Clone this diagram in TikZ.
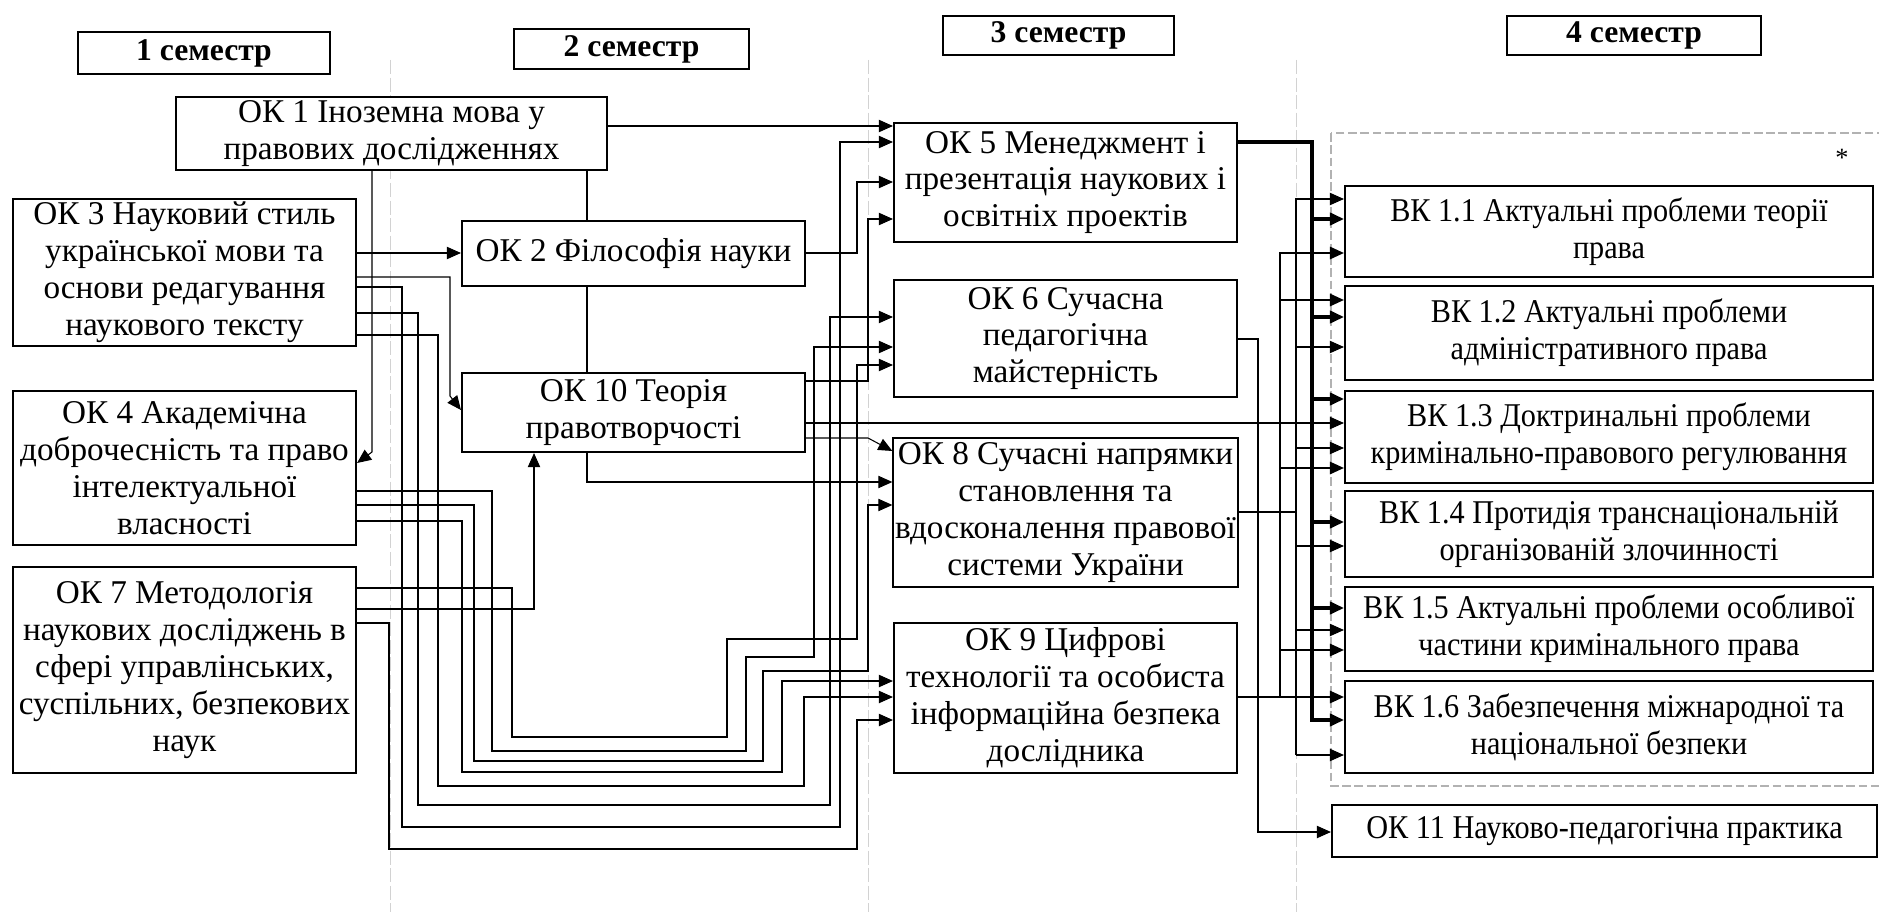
\documentclass[tikz,border=0pt]{standalone}
\usepackage{fontspec}
\setmainfont{Liberation Serif}
\newfontfamily\narrowfont{Liberation Serif}[FakeStretch=0.91]
\usetikzlibrary{arrows.meta}

\begin{document}
\begin{tikzpicture}[x=0.02cm,y=-0.02cm,>={Triangle[length=8pt,width=7pt]},
    box/.style={draw,line width=1.2pt,fill=white,align=center,inner sep=1pt,
        font=\fontsize{18.9}{21}\selectfont},
    vkbox/.style={box,font=\narrowfont\fontsize{18.9}{21}\selectfont},
    sembox/.style={box,font=\bfseries\fontsize{18}{21}\selectfont},
    boxwh/.style 2 args={minimum width=#1*0.02cm,minimum height=#2*0.02cm},
    wire/.style={line width=0.6pt,->},
    link/.style={line width=0.6pt},
    medium/.style={line width=1.2pt},
    heavy/.style={line width=1.8pt},
    sep/.style={gray!35,line width=0.5pt,dash pattern=on 8pt off 2pt}]
    \useasboundingbox (0,0) rectangle (1879,912);

    % Semester separators
    \draw[sep] (390,60) -- (390,912);
    \draw[sep] (868,60) -- (868,912);
    \draw[sep] (1296,60) -- (1296,912);

    % Semester headings
    \node[sembox,boxwh={252}{42}] (sem1) at (204,53) {1 семестр};
    \node[sembox,boxwh={235}{40}] (sem2) at (631.5,49) {2 семестр};
    \node[sembox,boxwh={231}{39}] (sem3) at (1058.5,35.5) {3 семестр};
    \node[sembox,boxwh={254}{39}] (sem4) at (1634,35.5) {4 семестр};

    % Elective block
    \draw[gray!60,line width=1.2pt,dash pattern=on 5pt off 2pt] (1331,133) rectangle (1890,786);
    \node[font=\fontsize{15}{18}\selectfont] (star) at (1842,158) {*};

    % 1 semester
    \node[box,boxwh={431}{73}] (ok1) at (391.5,133.5) {ОК 1 Іноземна мова у\\правових дослідженнях};
    \node[box,boxwh={343}{147}] (ok3) at (184.5,272.5) {ОК 3 Науковий стиль\\української мови та\\основи редагування\\наукового тексту};
    \node[box,boxwh={343}{154}] (ok4) at (184.5,468) {ОК 4 Академічна\\доброчесність та право\\інтелектуальної\\власності};
    \node[box,boxwh={343}{206}] (ok7) at (184.5,670) {ОК 7 Методологія\\наукових досліджень в\\сфері управлінських,\\суспільних, безпекових\\наук};

    % 2 semester
    \node[box,boxwh={343}{65}] (ok2) at (633.5,253.5) {ОК 2 Філософія науки};
    \node[box,boxwh={343}{79}] (ok10) at (633.5,412.5) {ОК 10 Теорія\\правотворчості};

    % 3 semester
    \node[box,boxwh={343}{119}] (ok5) at (1065.5,182.5) {ОК 5 Менеджмент і\\презентація наукових і\\освітніх проектів};
    \node[box,boxwh={343}{117}] (ok6) at (1065.5,338.5) {ОК 6 Сучасна\\педагогічна\\майстерність};
    \node[box,boxwh={343}{149}] (ok8) at (1065.5,512.5) {ОК 8 Сучасні напрямки\\становлення та\\вдосконалення правової\\системи України};
    \node[box,boxwh={343}{150}] (ok9) at (1065.5,698) {ОК 9 Цифрові\\технології та особиста\\інформаційна безпека\\дослідника};

    % 4 semester
    \node[vkbox,boxwh={528}{91}] (vk1) at (1609,231.5) {ВК 1.1 Актуальні проблеми теорії\\права};
    \node[vkbox,boxwh={528}{94}] (vk2) at (1609,333) {ВК 1.2 Актуальні проблеми\\адміністративного права};
    \node[vkbox,boxwh={528}{92}] (vk3) at (1609,437) {ВК 1.3 Доктринальні проблеми\\кримінально-правового регулювання};
    \node[vkbox,boxwh={528}{86}] (vk4) at (1609,534) {ВК 1.4 Протидія транснаціональній\\організованій злочинності};
    \node[vkbox,boxwh={528}{84}] (vk5) at (1609,629) {ВК 1.5 Актуальні проблеми особливої\\частини кримінального права};
    \node[vkbox,boxwh={528}{92}] (vk6) at (1609,727) {ВК 1.6 Забезпечення міжнародної та\\національної безпеки};
    \node[vkbox,boxwh={545}{52}] (ok11) at (1604.5,831) {ОК 11 Науково-педагогічна практика};

    % From OK 1
    \draw[wire] (ok1.east |- 0,126) -- (ok5.west |- 0,126);
    \draw[wire] (ok1.south -| 372,0) -- (372,452) -- (ok4.east |- 0,463);
    \draw[link] (ok1.south -| 587,0) -- (ok2.north -| 587,0);
    \draw[link] (ok2.south -| 587,0) -- (ok10.north -| 587,0);
    \draw[wire] (ok10.south -| 587,0) -- (587,482) -- (ok8.west |- 0,482);

    % From OK 3
    \draw[wire] (ok3.east |- 0,253) -- (ok2.west |- 0,253);
    \draw[wire] (ok3.east |- 0,277) -- (450,277) -- (450,396) -- (ok10.west |- 0,410);
    \draw[wire] (ok3.east |- 0,287) -- (402,287) -- (402,827) -- (840,827) -- (840,142) -- (ok5.west |- 0,142);
    \draw[wire] (ok3.east |- 0,313) -- (418,313) -- (418,805) -- (830,805) -- (830,317) -- (ok6.west |- 0,317);
    \draw[wire] (ok3.east |- 0,335) -- (438,335) -- (438,786) -- (804,786) -- (804,697) -- (ok9.west |- 0,697);

    % From OK 4
    \draw[wire] (ok4.east |- 0,491) -- (492,491) -- (492,751) -- (746,751) -- (746,657) -- (814,657) -- (814,347) -- (ok6.west |- 0,347);
    \draw[wire] (ok4.east |- 0,505) -- (474,505) -- (474,761) -- (763,761) -- (763,671) -- (868,671) -- (868,505) -- (ok8.west |- 0,505);
    \draw[wire] (ok4.east |- 0,521) -- (462,521) -- (462,772) -- (782,772) -- (782,681) -- (ok9.west |- 0,681);

    % From OK 7
    \draw[wire] (ok7.east |- 0,588) -- (512,588) -- (512,737) -- (727,737) -- (727,639) -- (857,639) -- (857,365) -- (ok6.west |- 0,365);
    \draw[wire] (ok7.east |- 0,609) -- (534,609) -- (ok10.south -| 534,0);
    \draw[wire] (ok7.east |- 0,623) -- (389,623) -- (389,849) -- (857,849) -- (857,720) -- (ok9.west |- 0,720);

    % From OK 2 and OK 10
    \draw[wire] (ok2.east |- 0,253) -- (857,253) -- (857,182) -- (ok5.west |- 0,182);
    \draw[wire] (ok10.east |- 0,381) -- (868,381) -- (868,219) -- (ok5.west |- 0,219);
    \draw[wire] (ok10.east |- 0,423) -- (vk3.west |- 0,423);
    \draw[wire] (ok10.east |- 0,438) -- (868,438) -- (ok8.west |- 0,451);

    % OK 5 to electives
    \draw[heavy,->] (ok5.east |- 0,142) -- (1312,142) -- (1312,720) -- (vk6.west |- 0,720);
    \draw[heavy,->] (1312,219) -- (vk1.west |- 0,219);
    \draw[heavy,->] (1312,317) -- (vk2.west |- 0,317);
    \draw[heavy,->] (1312,399) -- (vk3.west |- 0,399);
    \draw[heavy,->] (1312,522) -- (vk4.west |- 0,522);
    \draw[heavy,->] (1312,608) -- (vk5.west |- 0,608);

    % OK 9 to electives
    \draw[medium,->] (ok9.east |- 0,697) -- (vk6.west |- 0,697);
    \draw[medium,->] (1280,697) -- (1280,253) -- (vk1.west |- 0,253);
    \draw[medium,->] (1280,300) -- (vk2.west |- 0,300);
    \draw[medium,->] (1280,468) -- (vk3.west |- 0,468);
    \draw[medium,->] (1280,650) -- (vk5.west |- 0,650);

    % OK 8 to electives
    \draw[link] (ok8.east |- 0,512) -- (1296,512);
    \draw[wire] (1296,755) -- (1296,199) -- (vk1.west |- 0,199);
    \draw[wire] (1296,347) -- (vk2.west |- 0,347);
    \draw[wire] (1296,448) -- (vk3.west |- 0,448);
    \draw[wire] (1296,546) -- (vk4.west |- 0,546);
    \draw[wire] (1296,630) -- (vk5.west |- 0,630);
    \draw[wire] (1296,755) -- (vk6.west |- 0,755);

    % OK 6 to practice
    \draw[wire] (ok6.east |- 0,339) -- (1258,339) -- (1258,832) -- (ok11.west |- 0,832);
\end{tikzpicture}
\end{document}
